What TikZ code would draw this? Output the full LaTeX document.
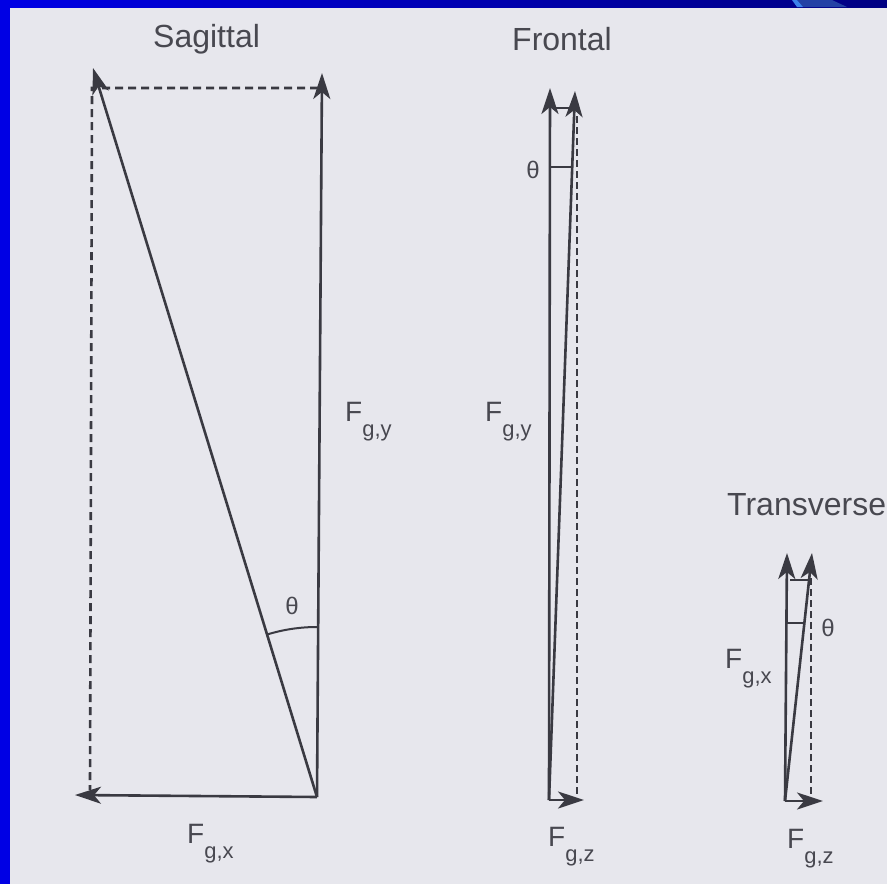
\documentclass[tikz,border=0pt]{standalone}
\usepackage{fontspec}
\setmainfont{Liberation Sans}
\usetikzlibrary{arrows.meta}
\definecolor{paper}{RGB}{231,231,237}
\definecolor{ink}{RGB}{58,58,66}
\definecolor{txt}{RGB}{72,72,80}
\definecolor{frameblue}{RGB}{0,0,228}
\definecolor{navy}{RGB}{0,0,130}
\definecolor{stripelight}{RGB}{60,130,235}
\definecolor{stripemid}{RGB}{35,65,165}
\newcommand\Fsub[1]{F\raisebox{-15pt}{\fontsize{22}{22}\selectfont #1}}
\begin{document}
\begin{tikzpicture}[x=1pt,y=1pt,
  vec/.style={draw=ink,line width=2.6pt,-{Stealth[length=26pt,width=17pt,inset=7pt]}},
  comp/.style={draw=ink,line width=2.4pt},
  dsh/.style={draw=ink,line width=2.6pt,dash pattern=on 8pt off 5pt},
  title/.style={text=txt,font=\fontsize{32}{32}\selectfont,inner sep=0pt,anchor=base west},
  lbl/.style={text=txt,font=\fontsize{28}{28}\selectfont,inner sep=0pt,anchor=base west},
  th/.style={text=txt,font=\fontsize{24}{24}\selectfont,inner sep=0pt}]
\useasboundingbox (0,0) rectangle (887,-884);
% background and frame
\fill[paper] (0,0) rectangle (887,-884);
\fill[frameblue] (0,0) rectangle (10,-884);
\shade[left color=frameblue,right color=navy] (10,0) rectangle (887,-7);
\fill[stripemid] (797,0) -- (832,0) -- (847,-7) -- (803,-7) -- cycle;
\fill[stripelight] (792,0) -- (797,0) -- (803,-7) -- (797,-7) -- cycle;

% ---------- Sagittal ----------
\node[title] (tS) at (153,-47) {Sagittal};
\coordinate (sO) at (317,-797);
\coordinate (sY) at (322,-73);
\coordinate (sX) at (75,-795);
\coordinate (sR) at (93,-68);
\coordinate (sC) at (92,-88);
\coordinate (sYd) at (318,-88);
\coordinate (sXd) at (90,-790);
\draw[dsh] (sYd) -- (sC) -- (sXd);
\draw[vec] (sO) -- (sY);
\draw[vec] (sO) -- (sX);
\draw[vec] (sO) -- (sR);
\draw[comp,line width=2pt] (sO) ++(90:170) arc[start angle=90,end angle=107,radius=170];
\node[th] (thS) at (292,-606) {θ};
\node[lbl] (lSy) at (345,-421) {\Fsub{g,y}};
\node[lbl] (lSx) at (187,-843) {\Fsub{g,x}};

% ---------- Frontal ----------
\node[title] (tF) at (512,-50) {Frontal};
\coordinate (fO) at (549,-800);
\coordinate (fY) at (550,-88);
\coordinate (fR) at (575,-91);
\coordinate (fZ) at (584,-800);
\coordinate (fD1) at (577,-105);
\coordinate (fD2) at (577,-795);
\coordinate (fH1) at (552,-108);
\coordinate (fH2) at (572,-108);
\coordinate (fT1) at (550,-167);
\coordinate (fT2) at (572,-167);
\draw[dsh,line width=2.4pt,dash pattern=on 7pt off 4pt] (fD1) -- (fD2);
\draw[comp] (fH1) -- (fH2);
\draw[comp,line width=2pt] (fT1) -- (fT2);
\draw[vec] (fO) -- (fY);
\draw[vec] (fO) -- (fR);
\draw[vec] (fO) -- (fZ);
\node[th] (thF) at (533,-170) {θ};
\node[lbl] (lFy) at (485,-421) {\Fsub{g,y}};
\node[lbl] (lFz) at (548,-846) {\Fsub{g,z}};

% ---------- Transverse ----------
\node[title] (tT) at (727,-515) {Transverse};
\coordinate (tO) at (785,-801);
\coordinate (tX) at (787,-553);
\coordinate (tR) at (812,-553);
\coordinate (tZ) at (823,-801);
\coordinate (tD1) at (811,-578);
\coordinate (tD2) at (811,-795);
\coordinate (tH1) at (790,-580);
\coordinate (tH2) at (808,-580);
\coordinate (tT1) at (786,-623);
\coordinate (tT2) at (805,-623);
\draw[dsh,line width=2.4pt,dash pattern=on 7pt off 4pt] (tD1) -- (tD2);
\draw[comp] (tH1) -- (tH2);
\draw[comp,line width=2pt] (tT1) -- (tT2);
\draw[vec] (tO) -- (tX);
\draw[vec] (tO) -- (tR);
\draw[vec] (tO) -- (tZ);
\node[th] (thT) at (828,-628) {θ};
\node[lbl] (lTx) at (725,-668) {\Fsub{g,x}};
\node[lbl] (lTz) at (787,-848) {\Fsub{g,z}};
\end{tikzpicture}
\end{document}
